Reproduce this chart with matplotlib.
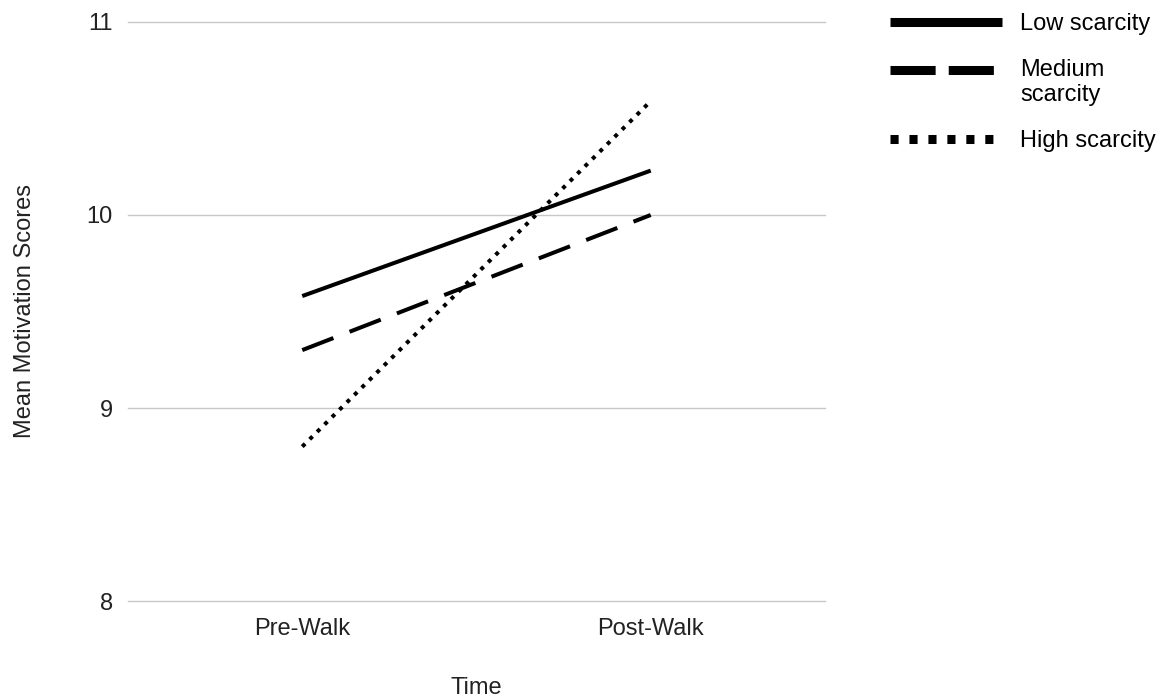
import matplotlib
matplotlib.use('Agg')
import matplotlib.pyplot as plt
from matplotlib.lines import Line2D
from matplotlib.legend_handler import HandlerLine2D

plt.rcParams['font.family'] = ['Liberation Sans', 'DejaVu Sans']

time_points = ['Pre-Walk', 'Post-Walk']
low_scarcity = [9.58, 10.23]
medium_scarcity = [9.30, 10.00]
high_scarcity = [8.80, 10.59]


class RaisedHandler(HandlerLine2D):
    # keep the handle next to the first line of a two-line label
    def __init__(self, shift, **kw):
        super().__init__(**kw)
        self.shift = shift

    def create_artists(self, legend, orig_handle, xdescent, ydescent,
                       width, height, fontsize, trans):
        artists = super().create_artists(legend, orig_handle, xdescent, ydescent,
                                         width, height, fontsize, trans)
        for a in artists:
            a.set_ydata([y + self.shift for y in a.get_ydata()])
        return artists


fig = plt.figure(figsize=(11.7, 7), dpi=100)
ax = fig.add_axes([0.1094, 0.1414, 0.5957, 0.8272])

x = range(len(time_points))
ax.plot(x, low_scarcity, color='black', lw=2.9, solid_capstyle='butt')
ax.plot(x, medium_scarcity, color='black', lw=2.9, dashes=(8.3, 4.3),
        dash_capstyle='butt')
ax.plot(x, high_scarcity, color='black', lw=2.9, dashes=(1.0, 1.6),
        dash_capstyle='butt')

ax.set_xlim(-0.5, 1.5)
ax.set_ylim(8, 11)
ax.set_yticks([8, 9, 10, 11])
ax.set_xticks(list(x))
ax.set_xticklabels(time_points)
ax.grid(axis='y', color='#c8c8c8', lw=1)
ax.set_axisbelow(True)
for gl in ax.get_ygridlines():
    gl.set_clip_on(False)
for s in ax.spines.values():
    s.set_visible(False)
ax.tick_params(axis='y', length=0, labelsize=17, colors='#222222', pad=10.8)
ax.tick_params(axis='x', length=0, labelsize=17, colors='#222222', pad=12.2)

ax.set_xlabel('Time', fontsize=17, color='#222222')
ax.set_ylabel('Mean Motivation Scores', fontsize=17, color='#222222')
ax.xaxis.set_label_coords(0.5, -0.131)
ax.yaxis.set_label_coords(-0.132, 0.5)

# legend handles (drawn thicker than the plot lines, as in the original)
h_low = Line2D([], [], color='black', lw=6.5, solid_capstyle='butt')
h_med = Line2D([], [], color='black', lw=6.5, dashes=(5.0, 1.45),
               dash_capstyle='butt')
h_high = Line2D([], [], color='black', lw=6.5, dashes=(0.9, 1.2),
                dash_capstyle='butt')

fig.legend([h_low, h_med, h_high],
           ['Low scarcity', 'Medium\nscarcity', 'High scarcity'],
           handler_map={h_med: RaisedHandler(shift=9.5)},
           loc='upper left', bbox_to_anchor=(890 / 1170, 0.981), frameon=False,
           fontsize=17, handlelength=4.75, labelspacing=1.0,
           handletextpad=0.76, borderpad=0, borderaxespad=0)

fig.savefig('out.png', dpi=100)
